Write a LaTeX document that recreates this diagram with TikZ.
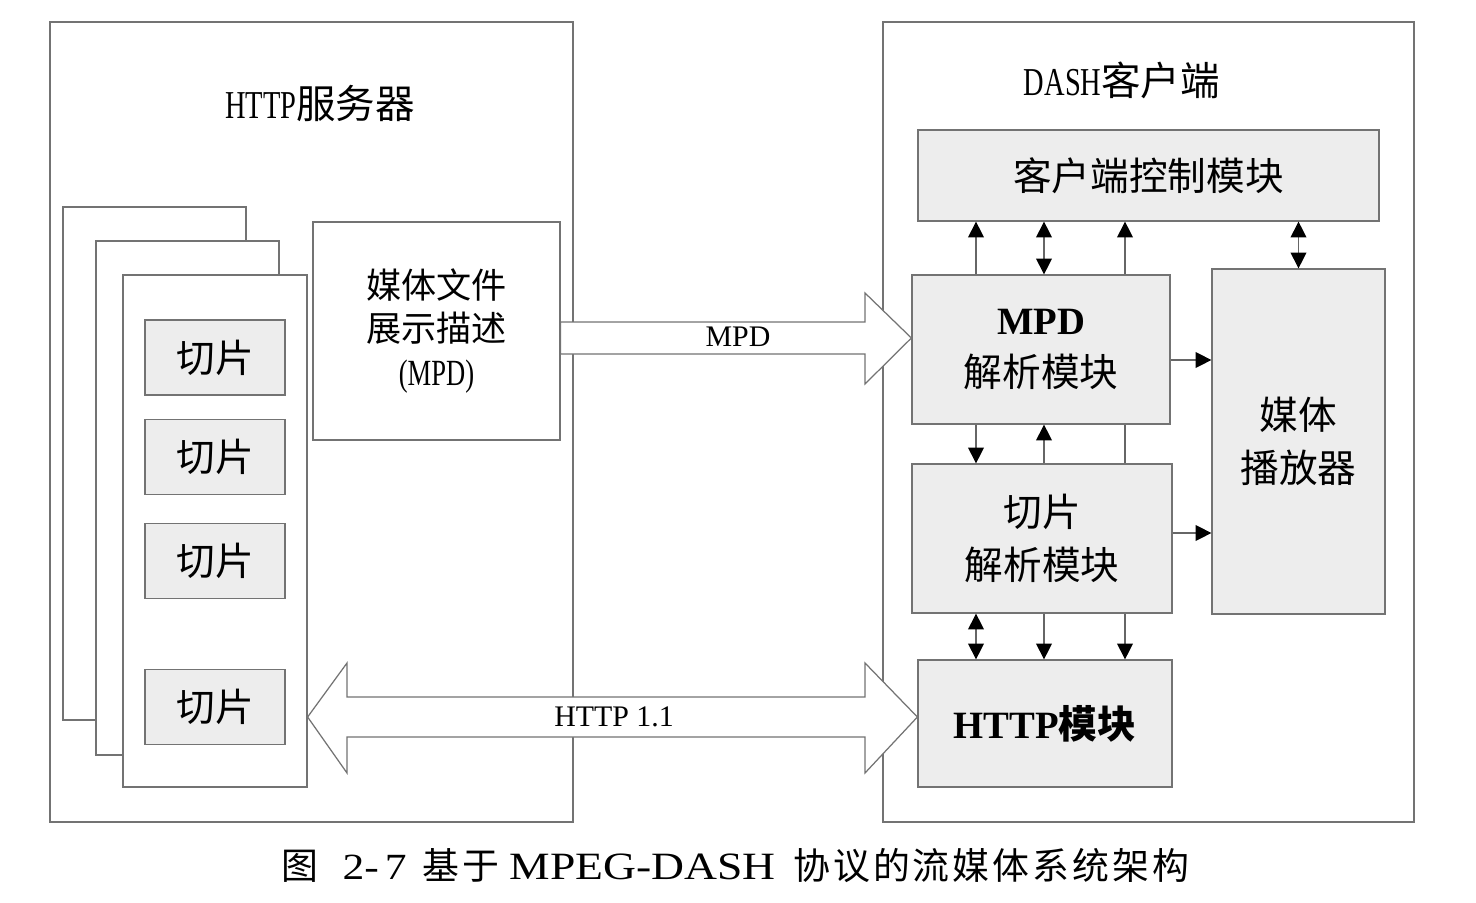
\documentclass[tikz,border=0pt]{standalone}
\usepackage{fontspec}
\setmainfont{Liberation Serif}
\newfontfamily\cjk{Noto Sans CJK SC}
\newfontfamily\narrow[FakeStretch=0.72]{Liberation Serif}
\newfontfamily\wide[FakeStretch=1.18]{Liberation Serif}
\usetikzlibrary{arrows.meta,calc}
\newcommand{\pxu}{0.02cm}
\tikzset{
  frame/.style={draw=black!55,line width=0.7pt,fill=white},
  page/.style={draw=black!55,line width=0.7pt,fill=white},
  modbox/.style={draw=black!55,line width=0.7pt,fill=black!7,align=center,inner sep=0pt},
  filebox/.style={draw=black!55,line width=0.7pt,fill=white,align=center,inner sep=0pt},
  big/.style={font=\cjk\fontsize{22}{30}\selectfont},
  fat/.style={draw=black!55,line width=0.7pt,fill=white},
  sarr/.style={draw=black!60,line width=0.6pt,-{Triangle[length=9pt,width=9pt,black]}},
  darr/.style={draw=black!60,line width=0.6pt,{Triangle[length=9pt,width=9pt,black]}-{Triangle[length=9pt,width=9pt,black]}},
  plain/.style={draw=black!60,line width=0.6pt}
}
\begin{document}
\begin{tikzpicture}[x=\pxu,y=-\pxu]
\useasboundingbox (0,0) rectangle (1476,902);
% server side
\node[frame,minimum width=523*\pxu,minimum height=800*\pxu] (server) at (311.5,422) {};
\node (servertitle) at (320,103) {\fontsize{22.5}{26}\selectfont{\narrow HTTP}{\cjk 服务器}};
\node[page,minimum width=183*\pxu,minimum height=513*\pxu] (page1) at (154.5,463.5) {};
\node[page,minimum width=183*\pxu,minimum height=514*\pxu] (page2) at (187.5,498) {};
\node[page,minimum width=184*\pxu,minimum height=512*\pxu] (page3) at (215,531) {};
\foreach \y/\n in {357.5/1,457/2,561/3,707/4}
  \node[modbox,big,minimum width=140*\pxu,minimum height=75*\pxu] (seg\n) at (215,\y) {切片};
\node[filebox,minimum width=247*\pxu,minimum height=218*\pxu,font=\cjk\fontsize{20}{25}\selectfont] (mpdfile) at (436.5,331)
  {媒体文件\\展示描述\\{\narrow\fontsize{21}{25}\selectfont (MPD)}};
% client side
\node[frame,minimum width=531*\pxu,minimum height=800*\pxu] (client) at (1148.5,422) {};
\node (clienttitle) at (1122,80) {\fontsize{22.5}{26}\selectfont{\narrow DASH}{\cjk 客户端}};
\node[modbox,big,minimum width=461*\pxu,minimum height=91*\pxu] (ctrl) at (1148.5,175.5) {客户端控制模块};
\node[modbox,big,minimum width=258*\pxu,minimum height=149*\pxu] (mpdp) at (1041,349.5)
  {{\rmfamily\bfseries MPD}\\解析模块};
\node[modbox,big,minimum width=260*\pxu,minimum height=149*\pxu] (segp) at (1042,538.5) {切片\\解析模块};
\node[modbox,big,minimum width=173*\pxu,minimum height=345*\pxu] (player) at (1298.5,441.5) {媒体\\播放器};
\node[modbox,big,minimum width=254*\pxu,minimum height=127*\pxu] (httpm) at (1045,723.5)
  {{\rmfamily\bfseries HTTP}\textbf{模块}};
% columns and rows for the small arrows
\coordinate (c1) at (976,0);
\coordinate (c2) at (1044,0);
\coordinate (c3) at (1125,0);
\coordinate (r1) at (0,360);
\coordinate (r2) at (0,533);
\draw[sarr] (mpdp.north -| c1) -- (ctrl.south -| c1);
\draw[darr] (mpdp.north -| c2) -- (ctrl.south -| c2);
\draw[sarr] (mpdp.north -| c3) -- (ctrl.south -| c3);
\draw[darr] (player.north) -- (ctrl.south -| player.north);
\draw[sarr] (mpdp.south -| c1) -- (segp.north -| c1);
\draw[sarr] (segp.north -| c2) -- (mpdp.south -| c2);
\draw[plain] (segp.north -| c3) -- (mpdp.south -| c3);
\draw[darr] (segp.south -| c1) -- (httpm.north -| c1);
\draw[sarr] (segp.south -| c2) -- (httpm.north -| c2);
\draw[sarr] (segp.south -| c3) -- (httpm.north -| c3);
\draw[sarr] (mpdp.east |- r1) -- (player.west |- r1);
\draw[sarr] (segp.east |- r2) -- (player.west |- r2);
% fat arrows
\draw[fat] (mpdfile.east |- 0,322) -- (865,322) -- (865,293) -- (mpdp.west |- 0,338)
  -- (865,384) -- (865,354) -- (mpdfile.east |- 0,354) -- cycle;
\node (mpdlabel) at (738,337) {\fontsize{17}{20}\selectfont MPD};
\draw[fat] (page3.east |- 0,717) -- (347,663) -- (347,697) -- (865,697) -- (865,663) -- (httpm.west |- 0,717)
  -- (865,773) -- (865,737) -- (347,737) -- (347,773) -- cycle;
\node (httplabel) at (614,717) {\fontsize{17}{20}\selectfont HTTP 1.1};
% caption
\node (caption) at (735,866) {\fontsize{21}{24}\selectfont{\cjk 图}\hspace{14pt}{\wide 2-\,7}\hspace{9pt}{\cjk\addfontfeature{LetterSpace=8} 基于}\hspace{6pt}{\wide\fontsize{22}{24}\selectfont MPEG-DASH}\hspace{10pt}{\cjk\addfontfeature{LetterSpace=8} 协议的流媒体系统架构}};
\end{tikzpicture}
\end{document}
